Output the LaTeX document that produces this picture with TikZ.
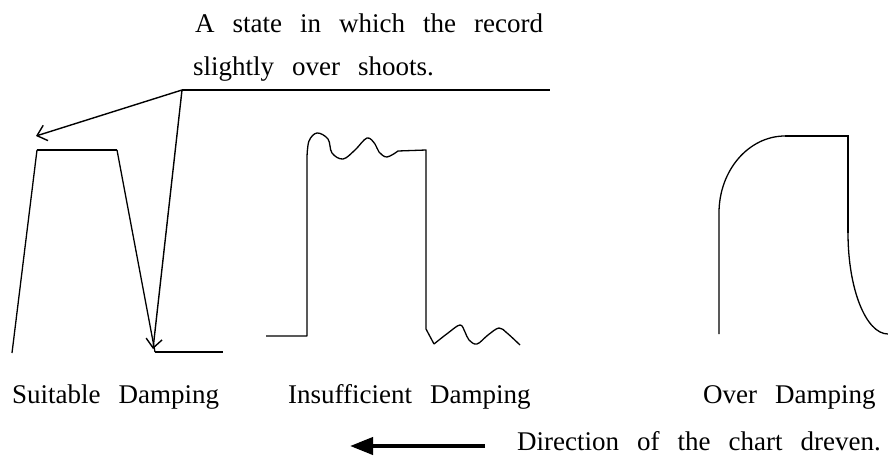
\documentclass[tikz,border=0pt]{standalone}
\usepackage{fontspec}
\setmainfont{Liberation Serif}
\usetikzlibrary{arrows.meta}
\newcommand\mylblfont{\fontsize{27}{30}\selectfont\spaceskip=18pt plus 0pt minus 0pt\relax}
\tikzset{
  lbl/.style={anchor=base west, inner sep=0pt, font=\mylblfont},
  trace/.style={line width=1.3pt, line join=round},
  flat/.style={line width=2pt},
  pointer/.style={line width=1.4pt, -{Straight Barb[length=9pt,width=16pt,line width=1.4pt]}},
  bigarrow/.style={line width=4pt, -{Triangle[length=23pt,width=17pt]}}
}
\begin{document}
\begin{tikzpicture}[x=1pt,y=-1pt]
\useasboundingbox (0,0) rectangle (888,455);
% top note
\node[lbl] (note1) at (195,32) {A state in which the record};
\node[lbl] (note2) at (193,75) {slightly over shoots.};
\coordinate (lead) at (182,90);
\coordinate (leadend) at (550,90);
\coordinate (tipA) at (36,136);
\coordinate (tipB) at (153,349);
\draw[flat] (lead) -- (leadend);
\draw[pointer] (lead) -- (tipA);
\draw[pointer] (lead) -- (tipB);
% suitable damping
\draw[trace] (12,353) -- (37,150);
\draw[flat] (37,150) -- (117,150);
\draw[trace] (117,150) -- (155,352);
\draw[flat] (155,352) -- (223,352);
% insufficient damping
\draw[trace] (266,336) -- (307,336) -- (307,157)
  plot[smooth, tension=0.6] coordinates {(307,157) (309,141) (317,133) (328,139) (332,153) (343,159) (355,150) (367,138) (375,144) (379,152) (387,157) (398,151)}
  -- (426,150) -- (426,329)
  plot[smooth, tension=0.6] coordinates {(426,329) (434,344)}
  plot[smooth, tension=0.6] coordinates {(434,344) (448,333) (460,325) (465,332) (469,340) (477,344) (488,335) (499,328) (507,333) (520,345)};
% over damping
\draw[trace] (719,334) -- (719,213) .. controls (719,170) and (749,136) .. (785,136);
\draw[flat] (785,136) -- (848,136) -- (848,233);
\draw[trace] (848,233) .. controls (848,289) and (866,334) .. (888,334);
% labels
\node[lbl] (l1) at (12,403) {Suitable Damping};
\node[lbl] (l2) at (288,403) {Insufficient Damping};
\node[lbl] (l3) at (703,403) {Over Damping};
\node[lbl] (dir) at (517,450) {Direction of the chart dreven.};
\coordinate (arrtail) at (485,446);
\coordinate (arrtip) at (350,446);
\draw[bigarrow] (arrtail) -- (arrtip);
\end{tikzpicture}
\end{document}
